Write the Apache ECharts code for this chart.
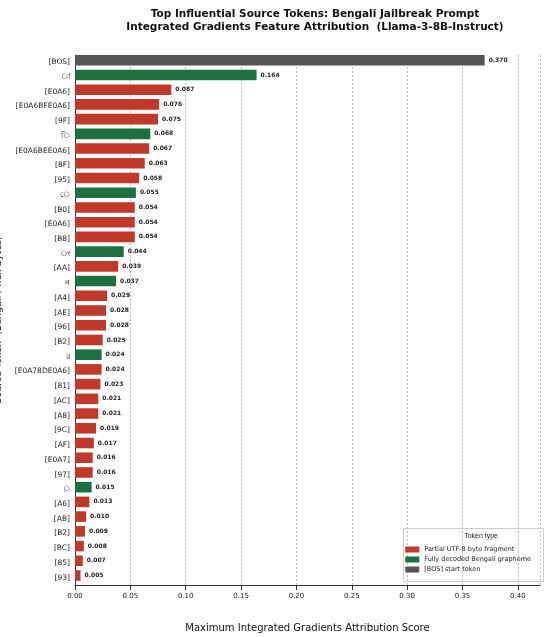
<!DOCTYPE html>
<html><head><meta charset="utf-8">
<script src="https://cdn.jsdelivr.net/npm/echarts@6/dist/echarts.min.js"></script>
<style>html,body{margin:0;padding:0;background:#fff}#c{width:550px;height:637px}</style>
</head><body><div id="c"></div>
<script>
const tokens = ["[BOS]","া","[E0A6]","[E0A6BFE0A6]","[9F]","ি","[E0A6BEE0A6]","[8F]","[95]","ে","[B0]","[E0A6]","[B8]","ং","[AA]","ন","[A4]","[AE]","[96]","[B2]","র","[E0A78DE0A6]","[81]","[AC]","[A8]","[9C]","[AF]","[E0A7]","[97]","়","[A6]","[AB]","[B2]","[BC]","[85]","[93]"];
const values = [0.370,0.164,0.087,0.076,0.075,0.068,0.067,0.063,0.058,0.055,0.054,0.054,0.054,0.044,0.039,0.037,0.029,0.028,0.028,0.025,0.024,0.024,0.023,0.021,0.021,0.019,0.017,0.016,0.016,0.015,0.013,0.010,0.009,0.008,0.007,0.005];
const types = ["bos","bn","hex","hex","hex","bn","hex","hex","hex","bn","hex","hex","hex","bn","hex","bn","hex","hex","hex","hex","bn","hex","hex","hex","hex","hex","hex","hex","hex","bn","hex","hex","hex","hex","hex","hex"];
const typeNames = {hex:"Partial UTF-8 byte fragment", bn:"Fully decoded Bengali grapheme", bos:"[BOS] start token"};
const colors = {hex:"#c0392b", bn:"#1e7040", bos:"#555555"};
const xTicks = [0,0.05,0.10,0.15,0.20,0.25,0.30,0.35,0.40];

const chart = echarts.init(document.getElementById('c'));
const data = values.map((v,i)=>({value:v,itemStyle:{color:colors[types[i]]}}));
chart.setOption({
  animation:false,
  textStyle:{fontFamily:'DejaVu Sans'},
  title:{text:'Top Influential Source Tokens: Bengali Jailbreak Prompt\nIntegrated Gradients Feature Attribution  (Llama-3-8B-Instruct)',
    left:310, top:3, textAlign:'center',
    textStyle:{fontSize:10.5,fontWeight:'bold',color:'#111',lineHeight:13,fontFamily:'DejaVu Sans'}},
  grid:{left:75,right:10,top:55,bottom:52,containLabel:false,outerBoundsMode:'none'},
  xAxis:{type:'value',min:0,max:0.42,interval:0.05,
    name:'Maximum Integrated Gradients Attribution Score',nameLocation:'middle',nameGap:38,
    nameTextStyle:{fontSize:10,color:'#111'},
    axisLine:{show:true,lineStyle:{color:'#333'}},axisTick:{show:true,lineStyle:{color:'#333'}},
    axisLabel:{fontSize:7,color:'#222',showMaxLabel:false,formatter:v=>xTicks.some(t=>Math.abs(t-v)<1e-9)?v.toFixed(2):''},
    splitLine:{show:true,lineStyle:{type:[2,2],color:'#bbb'}}},
  yAxis:{type:'category',data:tokens,inverse:true,
    name:'Source Token  (Bengali / hex bytes)',nameLocation:'middle',nameGap:60,nameRotate:90,
    nameTextStyle:{fontSize:9.5,color:'#111'},
    axisLine:{lineStyle:{color:'#333'}},axisTick:{alignWithLabel:true,lineStyle:{color:'#333'}},
    axisLabel:{fontSize:7.5,color:'#222',margin:5,fontFamily:'DejaVu Sans, Noto Sans'},splitLine:{show:false}},
  legend:{orient:'vertical',right:14,bottom:59,itemWidth:14,itemHeight:6,itemGap:3,icon:'rect',
    textStyle:{fontSize:6.5,color:'#222'},
    data:[typeNames.hex,typeNames.bn,typeNames.bos]},
  graphic:[
    {type:'rect',right:6,bottom:55,shape:{width:140,height:53},style:{fill:'rgba(255,255,255,0.9)',stroke:'#ccc'},z:0},
    {type:'text',right:52,bottom:97,style:{text:'Token type',fontSize:7,fill:'#222'}}
  ],
  series:[
    {type:'bar',data:data,barWidth:'72%',
      label:{show:true,position:'right',fontSize:6,fontWeight:'bold',color:'#222',distance:4,formatter:p=>p.value.toFixed(3)}},
    {type:'bar',name:typeNames.hex,data:[],itemStyle:{color:colors.hex}},
    {type:'bar',name:typeNames.bn,data:[],itemStyle:{color:colors.bn}},
    {type:'bar',name:typeNames.bos,data:[],itemStyle:{color:colors.bos}}
  ]
});
</script></body></html>
